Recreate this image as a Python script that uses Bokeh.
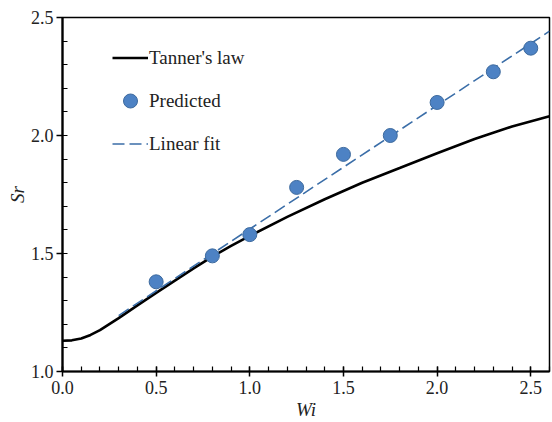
from bokeh.plotting import figure
from bokeh.models import Range1d, FixedTicker, PrintfTickFormatter, Legend, LegendItem
from bokeh.embed import file_html
from bokeh.resources import INLINE

# Tanner's law curve
tanner_wi = [0.0, 0.05, 0.1, 0.15, 0.2, 0.3, 0.4, 0.5, 0.6, 0.7, 0.8, 0.9, 1.0,
             1.2, 1.4, 1.6, 1.8, 2.0, 2.2, 2.4, 2.6]
tanner_sr = [1.130, 1.132, 1.140, 1.155, 1.175, 1.226, 1.280, 1.333, 1.385, 1.437,
             1.487, 1.532, 1.575, 1.655, 1.730, 1.800, 1.862, 1.925, 1.985, 2.038, 2.082]

# Predicted points
pred_wi = [0.5, 0.8, 1.0, 1.25, 1.5, 1.75, 2.0, 2.3, 2.5]
pred_sr = [1.38, 1.49, 1.58, 1.78, 1.92, 2.00, 2.14, 2.27, 2.37]

# Linear fit end points
fit_wi = [0.3, 2.6]
fit_sr = [1.237, 2.442]

x_ticks = [0.0, 0.5, 1.0, 1.5, 2.0, 2.5]
x_minor = [round(i * 0.1, 1) for i in range(0, 27)]
y_ticks = [1.0, 1.5, 2.0, 2.5]
y_minor = [round(1.0 + i * 0.1, 1) for i in range(0, 16)]

FONT = "Liberation Serif"
BLUE = "#4d82c4"
BLUE_EDGE = "#3d6a9e"
FIT = "#3b6ea8"

p = figure(width=552, height=422, output_backend="svg", toolbar_location=None,
           x_range=Range1d(0, 2.6), y_range=Range1d(1.0, 2.5),
           min_border_left=62, min_border_right=3, min_border_top=17, min_border_bottom=51)

p.xgrid.visible = False
p.ygrid.visible = False
p.outline_line_color = "black"
p.outline_line_width = 1.5
p.background_fill_color = "white"
p.border_fill_color = "white"

tl = p.line(tanner_wi, tanner_sr, line_color="black", line_width=2.6)
fl = p.line(fit_wi, fit_sr, line_color=FIT, line_width=1.6, line_dash="12 5")
pc = p.scatter(pred_wi, pred_sr, size=14, fill_color=BLUE, line_color=BLUE_EDGE, line_width=1)

xa = p.xaxis[0]
xa.ticker = FixedTicker(ticks=x_ticks, minor_ticks=x_minor)
xa.formatter = PrintfTickFormatter(format="%.1f")
xa.major_tick_in = 5
xa.major_tick_out = 5
xa.minor_tick_in = 5
xa.minor_tick_out = 0
xa.axis_label = "Wi"

ya = p.yaxis[0]
ya.ticker = FixedTicker(ticks=y_ticks, minor_ticks=y_minor)
ya.formatter = PrintfTickFormatter(format="%.1f")
ya.major_tick_in = 0
ya.major_tick_out = 6
ya.minor_tick_in = 5
ya.minor_tick_out = 0
ya.axis_label = "Sr"

for ax in (xa, ya):
    ax.axis_line_width = 2.2
    ax.axis_line_color = "black"
    ax.major_tick_line_width = 1.5
    ax.minor_tick_line_width = 1.2
    ax.major_tick_line_color = "black"
    ax.minor_tick_line_color = "black"
    ax.major_label_text_font = FONT
    ax.major_label_text_font_size = "18px"
    ax.major_label_text_color = "#222222"
    ax.axis_label_text_font = FONT
    ax.axis_label_text_font_size = "19px"
    ax.axis_label_text_font_style = "italic"
    ax.axis_label_text_color = "#222222"

xa.major_label_standoff = 4
xa.axis_label_standoff = 2
ya.major_label_standoff = 3
ya.axis_label_standoff = 0

legend = Legend(items=[
    LegendItem(label="Tanner's law", renderers=[tl]),
    LegendItem(label="Predicted", renderers=[pc]),
    LegendItem(label="Linear fit", renderers=[fl]),
], location=(50, 210))
legend.border_line_color = None
legend.background_fill_alpha = 0
legend.padding = 0
legend.margin = 0
legend.glyph_width = 36
legend.glyph_height = 35
legend.label_height = 20
legend.spacing = 8
legend.label_standoff = 1
legend.label_text_font = FONT
legend.label_text_font_size = "19px"
legend.label_text_color = "#222222"
p.add_layout(legend, "center")

open("out.html", "w").write(file_html(p, INLINE))
